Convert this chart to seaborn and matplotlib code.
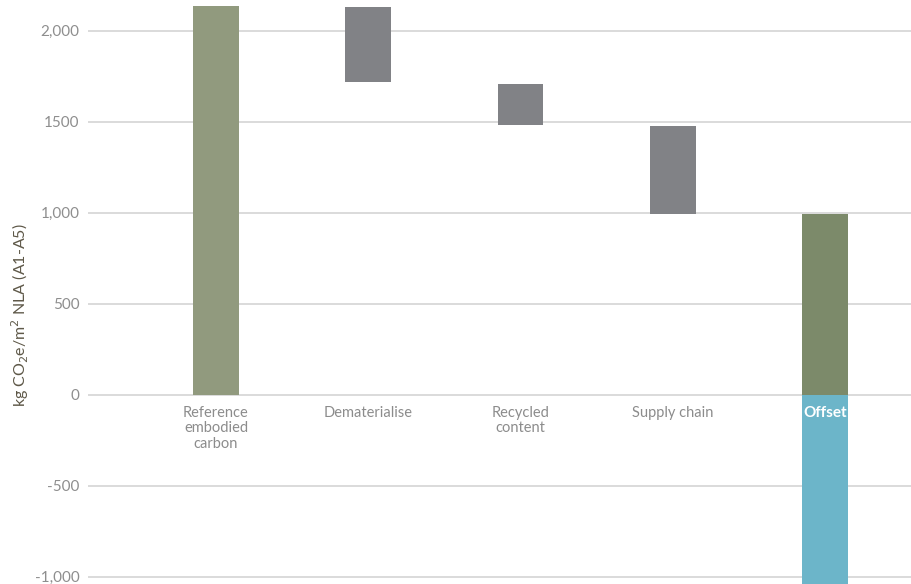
import matplotlib
matplotlib.use("Agg")
import matplotlib.pyplot as plt
import matplotlib.transforms as mtransforms
import seaborn as sns
import pandas as pd

# ---- data ----
categories = ["Reference\nembodied\ncarbon", "Dematerialise", "Recycled\ncontent", "Supply chain", "Offset"]
seg_category = [0, 1, 2, 3, 4, 4]
seg_start = [0, 1719, 1482, 993, 0, -1050]
seg_end = [2135, 2130, 1706, 1475, 993, 0]
seg_kind = ["reference", "reduction", "reduction", "reduction", "net", "offset"]
tick_values = [-1000, -500, 0, 500, 1000, 1500, 2000]
tick_labels = ["-1,000", "-500", "0", "500", "1,000", "1500", "2,000"]
y_label = "kg CO$_2$e/m$^2$ NLA (A1-A5)"

colors = {"reference": "#919a7e", "reduction": "#818286", "net": "#7c8a6a", "offset": "#6cb5c9"}

sns.set_theme(style="white")
plt.rcParams["font.family"] = ["Lato", "DejaVu Sans"]

fig = plt.figure(figsize=(9.12, 5.84), dpi=100)
ax = fig.add_axes([88 / 912, 0, 824 / 912, 1])

df = pd.DataFrame({
    "cat": [categories[i] for i in seg_category],
    "start": seg_start,
    "end": seg_end,
    "kind": seg_kind,
})
df["height"] = df["end"] - df["start"]

for _, row in df.iterrows():
    sns.barplot(x=[row["cat"]], y=[row["height"]], order=categories, bottom=row["start"],
                color=colors[row["kind"]], saturation=1, width=0.30, ax=ax, zorder=3,
                edgecolor="none", linewidth=0)

ax.set_xlim(-0.84, 4.57)
ax.set_ylim(-1041, 2168)

for s in ax.spines.values():
    s.set_visible(False)

ax.set_yticks(tick_values)
ax.set_yticklabels(tick_labels)
ax.tick_params(axis="y", length=0, pad=6, labelsize=11, labelcolor="#8e8e8e")
ax.yaxis.grid(True, color="#dadada", linewidth=1.4, zorder=0)
ax.xaxis.grid(False)
ax.set_axisbelow(True)

ax.set_xticks([])
ax.set_xlabel("")
ax.set_ylabel("")

# category labels under the zero line
offset = mtransforms.offset_copy(ax.transData, fig=fig, x=0, y=-8, units="points")
for i, lab in enumerate(categories):
    if lab == "Offset":
        ax.text(i, 0, lab, transform=offset, ha="center", va="top", fontsize=11,
                color="white", fontweight="bold", zorder=5, linespacing=1.15)
    else:
        ax.text(i, 0, lab, transform=offset, ha="center", va="top", fontsize=10.5,
                color="#8c8c8c", zorder=5, linespacing=1.15)

fig.text(20 / 912, 1 - 315 / 584, y_label, rotation=90, ha="center", va="center",
         fontsize=11.5, color="#5e5848")

fig.savefig("out.png", dpi=100)
